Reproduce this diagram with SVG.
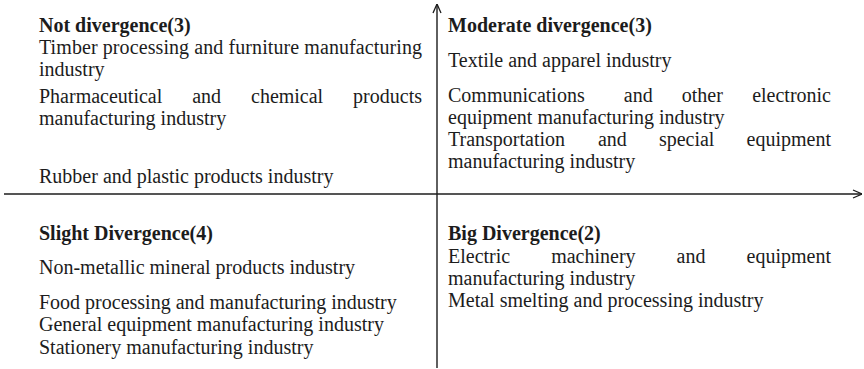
<svg xmlns="http://www.w3.org/2000/svg" width="864" height="369" viewBox="0 0 864 369">
  <style>
    text { font-family: "Liberation Serif", "Times New Roman", serif; font-size: 20px; fill: #1c1c1c; }
    .title { font-weight: bold; }
    .axis { stroke: #1c1c1c; stroke-width: 1.4; fill: none; }
  </style>
  <defs>
    <marker id="open-arrow" viewBox="0 0 10 10" refX="10" refY="5" markerWidth="10" markerHeight="10" markerUnits="userSpaceOnUse" orient="auto">
      <path d="M1,1 L10,5 L1,9" fill="none" stroke="#1c1c1c" stroke-width="1.3"/>
    </marker>
  </defs>

  <!-- axes -->
  <g id="connectors">
    <line class="axis" x1="437" y1="368" x2="437" y2="4" marker-end="url(#open-arrow)"/>
    <line class="axis" x1="4" y1="194" x2="862" y2="194" marker-end="url(#open-arrow)"/>
  </g>

  <!-- upper left quadrant -->
  <g id="not-divergence">
    <text class="title" x="39" y="32">Not divergence(3)</text>
    <text x="39" y="54" textLength="383" lengthAdjust="spacing">Timber processing and furniture manufacturing</text>
    <text x="39" y="76">industry</text>
    <text y="103"><tspan x="39">Pharmaceutical</tspan><tspan x="192.2">and</tspan><tspan x="251">chemical</tspan><tspan x="422" text-anchor="end">products</tspan></text>
    <text x="39" y="125">manufacturing industry</text>
    <text x="39" y="183">Rubber and plastic products industry</text>
  </g>

  <!-- upper right quadrant -->
  <g id="moderate-divergence">
    <text class="title" x="448" y="32">Moderate divergence(3)</text>
    <text x="448" y="67">Textile and apparel industry</text>
    <text y="102"><tspan x="448">Communications</tspan><tspan x="623.8">and</tspan><tspan x="681.8">other</tspan><tspan x="831" text-anchor="end">electronic</tspan></text>
    <text x="448" y="124">equipment manufacturing industry</text>
    <text y="146"><tspan x="448">Transportation</tspan><tspan x="597.9">and</tspan><tspan x="658.9">special</tspan><tspan x="831" text-anchor="end">equipment</tspan></text>
    <text x="448" y="168">manufacturing industry</text>
  </g>

  <!-- lower left quadrant -->
  <g id="slight-divergence">
    <text class="title" x="39" y="240">Slight Divergence(4)</text>
    <text x="39" y="274">Non-metallic mineral products industry</text>
    <text x="39" y="309">Food processing and manufacturing industry</text>
    <text x="39" y="331">General equipment manufacturing industry</text>
    <text x="39" y="354">Stationery manufacturing industry</text>
  </g>

  <!-- lower right quadrant -->
  <g id="big-divergence">
    <text class="title" x="448" y="240">Big Divergence(2)</text>
    <text y="263"><tspan x="448">Electric</tspan><tspan x="551.2">machinery</tspan><tspan x="676.6">and</tspan><tspan x="831" text-anchor="end">equipment</tspan></text>
    <text x="448" y="285">manufacturing industry</text>
    <text x="448" y="307">Metal smelting and processing industry</text>
  </g>
</svg>
